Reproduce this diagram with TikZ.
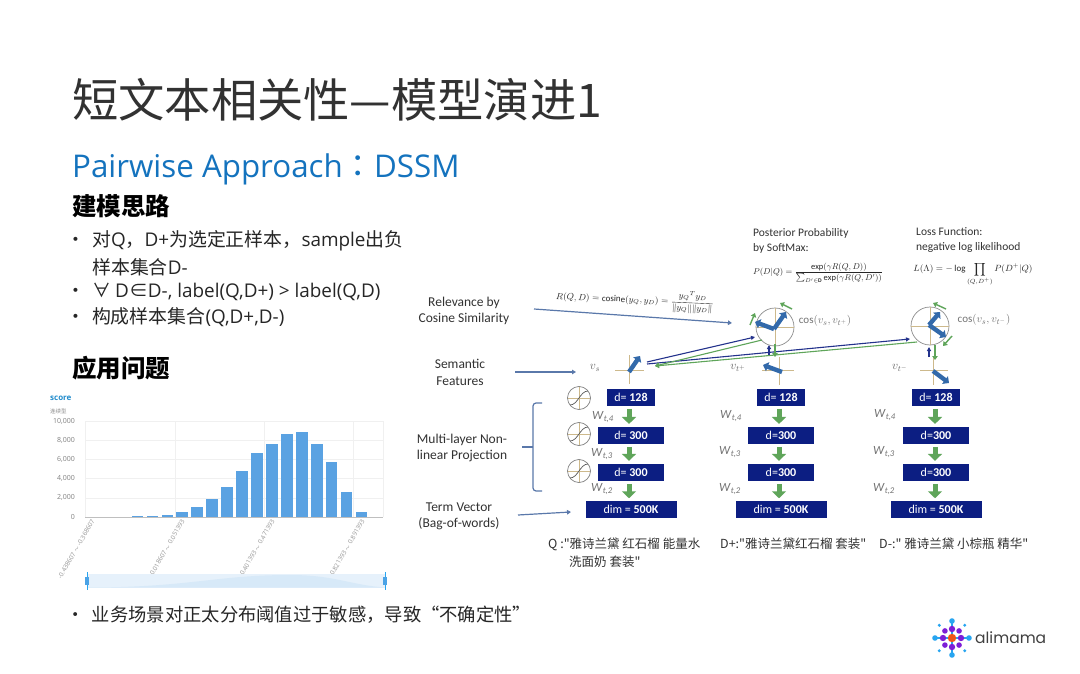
\documentclass[tikz,border=0pt]{standalone}
\usepackage{amsmath}
\usepackage{fontspec}
\setmainfont{Carlito}
\newfontfamily\cjk{Noto Sans CJK SC}
\newfontfamily\cjkwide{Noto Sans CJK TC}
\newfontfamily\uifont{Open Sans}
\newfontfamily\logofont{Poppins}
\usepackage{xcolor}
\usetikzlibrary{arrows.meta,positioning}
\definecolor{titleink}{RGB}{50,50,50}
\definecolor{ourblue}{RGB}{20,115,190}
\definecolor{navybox}{RGB}{12,30,130}
\definecolor{vecblue}{RGB}{50,105,170}
\definecolor{lineblue}{RGB}{90,120,170}
\definecolor{deepblue}{RGB}{35,50,140}
\definecolor{ourgreen}{RGB}{95,165,90}
\definecolor{axistan}{RGB}{205,185,140}
\definecolor{barblue}{RGB}{90,162,226}
\definecolor{logopurple}{RGB}{125,30,215}
\definecolor{logocyan}{RGB}{40,165,240}
\definecolor{logoorange}{RGB}{240,85,25}

\begin{document}
\begin{tikzpicture}[
  x=1pt, y=-1pt,
  title/.style={anchor=west, inner sep=0, text=titleink, font=\cjk\fontsize{46.3}{50}\selectfont},
  subtitle/.style={anchor=west, inner sep=0, text=ourblue, font=\uifont\fontsize{31.3}{36}\selectfont},
  head/.style={anchor=west, inner sep=0, text=black, font=\cjk\bfseries\fontsize{24.5}{28}\selectfont},
  item/.style={anchor=west, inner sep=0, text=black!85, font=\cjk\fontsize{18.9}{22}\selectfont},
  itemwide/.style={item, font=\cjk\fontsize{18.3}{22}\selectfont},
  side/.style={align=center, inner sep=0, text=titleink, font=\fontsize{13.5}{16.5}\selectfont},
  note/.style={anchor=west, align=left, inner sep=0, text=titleink, font=\fontsize{11.5}{15}\selectfont},
  query/.style={anchor=west, inner sep=0, text=titleink, font=\cjk\fontsize{12.5}{16}\selectfont},
  formula/.style={inner sep=0, text=black!85, font=\fontsize{9}{11}\selectfont},
  vlabel/.style={inner sep=0, text=black!60, font=\fontsize{12}{14}\selectfont},
  cosine/.style={inner sep=0, text=black!55, font=\fontsize{11}{13}\selectfont},
  weight/.style={inner sep=0, text=black!55, font=\fontsize{12.5}{14}\selectfont},
  box/.style={fill=navybox, text=white, inner sep=0, minimum height=16.5pt, font=\fontsize{12}{14}\selectfont},
  box128/.style={box, minimum width=48pt},
  box300/.style={box, minimum width=66.5pt},
  boxdim/.style={box, minimum width=91pt},
  dial/.style={circle, draw=black!45, inner sep=0, minimum size=38pt, line width=.7pt},
  sigmoid/.style={circle, draw=black!50, inner sep=0, minimum size=23pt, line width=.7pt},
  axisline/.style={axistan, line width=.9pt},
  vec/.style={-{Triangle[length=5pt,width=9.5pt]}, vecblue, line width=4.4pt},
  tick/.style={-{Triangle[length=4pt,width=5.5pt]}, ourgreen, line width=1.4pt},
  flow/.style={-{Triangle[length=7pt,width=14pt]}, ourgreen, line width=5pt, shorten >=3pt, shorten <=3pt},
  arrow/.style={-{Triangle[length=4pt,width=4.5pt]}, lineblue, line width=1.2pt},
  dotprod/.style={-{Triangle[length=4pt,width=4pt]}, deepblue, line width=1.1pt},
  backprod/.style={{Triangle[length=4pt,width=5pt]}-, ourgreen, line width=1.1pt},
  gridline/.style={black!6, line width=.5pt},
  ticktext/.style={anchor=east, rotate=60, inner sep=0, text=black!42, font=\uifont\fontsize{6.3}{7}\selectfont},
  yticktext/.style={anchor=east, inner sep=0, text=black!50, font=\uifont\fontsize{7}{8}\selectfont}
]
\useasboundingbox (0,0) rectangle (1080,674);
\fill[white] (0,0) rectangle (1080,674);

% slide text
\node[title] (title) at (72,100) {短文本相关性—模型演进1};
\node[subtitle] (sub) at (72,169) {Pairwise Approach{\cjkwide ：}DSSM};
\node[head] (idea) at (72,206) {建模思路};
\node[item] (b1) at (66,241) {•\hspace{7pt}对{\uifont Q}，{\uifont D+}为选定正样本，{\uifont sample}出负};
\node[item] (b1x) at (92,267) {样本集合{\uifont D-}};
\node[item] (b2) at (66,292) {•\hspace{7pt}∀ {\uifont D}∈{\uifont D-, label(Q,D+) > label(Q,D)}};
\node[item] (b3) at (66,317) {•\hspace{7pt}构成样本集合{\uifont (Q,D+,D-)}};
\node[head] (issue) at (72,368) {应用问题};
\node[itemwide] (b4) at (66.5,615) {•\hspace{7pt}业务场景对正太分布阈值过于敏感，导致“不确定性”};

% score chart
\node[anchor=west, inner sep=0, text=logocyan!85!black, font=\uifont\bfseries\fontsize{8}{9}\selectfont] (score) at (50,398) {score};
\node[anchor=west, inner sep=0, text=black!45, font=\cjk\fontsize{5.5}{6}\selectfont] (kind) at (50,411) {连续型};
\foreach \v/\lab in {0/0,2000/{2,000},4000/{4,000},6000/{6,000},8000/{8,000},10000/{10,000}} {
  \draw[gridline] (85,517-\v*0.0096) -- (383,517-\v*0.0096);
  \node[yticktext] at (75,517-\v*0.0096) {\lab};
}
\foreach \x in {85,175,264,353,383} \draw[gridline] (\x,421) -- (\x,517);
\foreach \v [count=\i from 0] in {60,150,250,500,1000,1900,3100,4800,6700,7650,8600,8900,7650,5700,2650,500,50}
  \fill[barblue] (131.7+\i*14.93,517) rectangle (143.4+\i*14.93,517-\v*0.0096);
\draw[black!25, line width=.5pt] (85,517) -- (383,517);
\node[ticktext] at (93,520) {-0.438607 $\sim$ -0.368607};
\node[ticktext] at (183,520) {-0.018607 $\sim$ 0.051393};
\node[ticktext] at (273,520) {0.401393 $\sim$ 0.471393};
\node[ticktext] at (363,520) {0.821393 $\sim$ 0.891393};
\fill[barblue!15] (87,574) rectangle (385,588);
\fill[barblue!24] (87,587.5) .. controls (190,587.5) and (215,575) .. (290,575) .. controls (335,575) and (350,585) .. (385,587.5) -- cycle;
\foreach \x in {87,385} {
  \draw[logocyan, line width=.7pt] (\x,572) -- (\x,590);
  \fill[barblue!70!logocyan] (\x-2,577) rectangle (\x+2,585);
}

% left labels
\node[side] (rel) at (464,311) {Relevance by\\Cosine Similarity};
\node[side] (sem) at (460,372.5) {Semantic\\Features};
\node[side] (mlp) at (462,448) {Multi-layer Non-\\linear Projection};
\node[side] (term) at (459,516.5) {Term Vector\\(Bag-of-words)};

% three towers
\node[box128] (qa) at (631,397.5) {d= \textbf{128}};
\node[box300, below=21pt of qa] (qb) {d= \textbf{300}};
\node[box300, below=20pt of qb] (qc) {d= \textbf{300}};
\node[boxdim, below=20.5pt of qc] (qd) {dim = \textbf{500K}};
\node[box128] (pa) at (781,397.5) {d= \textbf{128}};
\node[box300, below=21pt of pa] (pb) {d=\textbf{300}};
\node[box300, below=20pt of pb] (pc) {d=\textbf{300}};
\node[boxdim, below=20.5pt of pc] (pd) {dim = \textbf{500K}};
\node[box128] (na) at (936,397.5) {d= \textbf{128}};
\node[box300, below=21pt of na] (nb) {d=\textbf{300}};
\node[box300, below=20pt of nb] (nc) {d=\textbf{300}};
\node[boxdim, below=20.5pt of nc] (nd) {dim = \textbf{500K}};
\draw[flow] ([xshift=-2pt]qa.south) -- ([xshift=-2pt]qb.north);
\draw[flow] ([xshift=-2pt]qb.south) -- ([xshift=-2pt]qc.north);
\draw[flow] ([xshift=-2pt]qc.south) -- ([xshift=-2pt]qd.north);
\draw[flow] ([xshift=-2pt]pa.south) -- ([xshift=-2pt]pb.north);
\draw[flow] ([xshift=-2pt]pb.south) -- ([xshift=-2pt]pc.north);
\draw[flow] ([xshift=-2pt]pc.south) -- ([xshift=-2pt]pd.north);
\draw[flow] ([xshift=-1pt]na.south) -- ([xshift=-1pt]nb.north);
\draw[flow] ([xshift=-1pt]nb.south) -- ([xshift=-1pt]nc.north);
\draw[flow] ([xshift=-1pt]nc.south) -- ([xshift=-1pt]nd.north);

\node[weight] at (603,417) {\textit{W}\textsubscript{\textit{t,4}}};
\node[weight] at (602,454) {\textit{W}\textsubscript{\textit{t,3}}};
\node[weight] at (602,489) {\textit{W}\textsubscript{\textit{t,2}}};
\node[weight] at (731,416) {\textit{W}\textsubscript{\textit{t,4}}};
\node[weight] at (730,452) {\textit{W}\textsubscript{\textit{t,3}}};
\node[weight] at (730,489) {\textit{W}\textsubscript{\textit{t,2}}};
\node[weight] at (885,415) {\textit{W}\textsubscript{\textit{t,4}}};
\node[weight] at (884,452) {\textit{W}\textsubscript{\textit{t,3}}};
\node[weight] at (884,489) {\textit{W}\textsubscript{\textit{t,2}}};

% sigmoid icons
\foreach \y/\nm in {398/a,434/b,471/c} {
  \node[sigmoid] (sig\nm) at (579,\y) {};
  \draw[axistan, line width=.7pt] (568,\y) -- (590,\y) (579,\y-11) -- (579,\y+11);
  \draw[black!65, line width=.7pt] (570,\y+7) .. controls (578,\y+7) and (580,\y-7) .. (588,\y-7);
}

% brace
\draw[lineblue, line width=1.2pt, rounded corners=3pt] (542,403) -- (533,403) -- (533,491) -- (542,491);
\draw[lineblue, line width=1.2pt] (522,447) -- (533,447);

% semantic vectors
\draw[axisline] (615,370) -- (644,370) (629,355) -- (629,384);
\draw[axisline] (762,370) -- (794,370) (779,357) -- (779,385);
\draw[axisline] (920,370) -- (948,370) (933,357) -- (933,385);
\draw[vec] (629,372) -- (640,356);
\draw[vec] (782,372) -- (763,365);
\draw[vec] (933,371) -- (949,383);
\node[vlabel] (vs) at (595,368) {$v_s$};
\node[vlabel] (vp) at (738,368) {$v_{t^+}$};
\node[vlabel] (vn) at (900,368) {$v_{t^-}$};

% cosine dials
\node[dial] (dialp) at (775,327) {};
\node[dial] (dialn) at (930,326) {};
\draw[axisline] (756,327) -- (794,327) (775,308) -- (775,346);
\draw[axisline] (911,326) -- (949,326) (930,307) -- (930,345);
\draw[vec] (774,329) -- (786,312);
\draw[vec] (774,329) -- (755,322);
\draw[vec] (929,325) -- (940,312);
\draw[vec] (929,325) -- (946,337);
\draw[tick] (750,325) -- (755,313);
\draw[tick] (792,309) -- (780,303);
\draw[tick] (946,309) -- (933,303);
\draw[tick] (952,336) -- (943,346);
\node[cosine] (cosp) at (825,321) {$\cos(v_s,v_{t^+})$};
\node[cosine] (cosn) at (984,320) {$\cos(v_s,v_{t^-})$};

% long connectors
\coordinate (qtip) at (647,362);
\coordinate (qtipb) at (647,364);
\coordinate (qend) at (655,366);
\coordinate (pin) at (755,337);
\coordinate (nin) at (910,339);
\coordinate (pout) at (762,340);
\coordinate (nout) at (917,342);
\draw[dotprod] (qtip) -- (pin);
\draw[dotprod] (qtipb) -- (nin);
\draw[backprod] (qend) -- (pout);
\draw[backprod] (qend) -- (nout);
\coordinate (pbl) at (769,355);
\coordinate (pbu) at (769,345);
\coordinate (pgu) at (775,344);
\coordinate (pgl) at (775,357);
\coordinate (nbl) at (929,357);
\coordinate (nbu) at (929,347);
\coordinate (ngu) at (935,345);
\coordinate (ngl) at (935,360);
\draw[dotprod] (pbl) -- (pbu);
\draw[tick] (pgu) -- (pgl);
\draw[dotprod] (nbl) -- (nbu);
\draw[tick] (ngu) -- (ngl);

% label arrows
\coordinate (relstart) at (534,309);
\coordinate (relend) at (732,323);
\coordinate (semstart) at (515,372);
\coordinate (semend) at (576,372);
\coordinate (termstart) at (518,515);
\coordinate (termend) at (571,512);
\draw[arrow] (relstart) -- (relend);
\draw[arrow] (semstart) -- (semend);
\draw[arrow] (termstart) -- (termend);

% formulas
\node[formula, rotate=-2.5] (frel) at (635,300) {$R(Q,D)=\mathrm{cosine}(y_Q,y_D)=\dfrac{{y_Q}^T y_D}{\|y_Q\|\|y_D\|}$};
\node[note] (post) at (753,240.5) {Posterior Probability\\by SoftMax:};
\node[formula, scale=.94] (fpost) at (818,273) {$P(D|Q)=\dfrac{\exp(\gamma R(Q,D))}{\sum_{D'\in\mathbf{D}}\exp(\gamma R(Q,D'))}$};
\node[note] (loss) at (916,240.5) {Loss Function:\\negative log likelihood};
\node[formula] (floss) at (973,274) {$L(\Lambda)=-\log\displaystyle\prod_{(Q,D^+)}P(D^+|Q)$};

% query lines
\node[query] (qq) at (548,544) {Q :"雅诗兰黛 红石榴 能量水};
\node[query] (qq2) at (569,562) {洗面奶 套装"};
\node[query] (dp) at (720,544) {D+:"雅诗兰黛红石榴 套装"};
\node[query] (dn) at (879,544) {D-:" 雅诗兰黛 小棕瓶 精华"};

% logo
\foreach \a in {0,90,180,270} {
  \draw[logocyan, line width=1.2pt] (952,638) -- ++(\a:16);
  \fill[logopurple] (952,638) ++(\a:9) circle (3.2);
  \fill[logocyan] (952,638) ++(\a:17) circle (2.8);
}
\foreach \a in {45,135,225,315} {
  \fill[logopurple] (952,638) ++(\a:10) circle (2.8);
  \fill[logocyan] (952,638) ++(\a:18) circle (1.7);
}
\fill[logoorange] (952,638) circle (4.2);
\node[anchor=west, inner sep=0, text=black!75, font=\logofont\fontsize{15.5}{18}\selectfont] (logotext) at (975,637.5) {alimama};
\end{tikzpicture}
\end{document}
